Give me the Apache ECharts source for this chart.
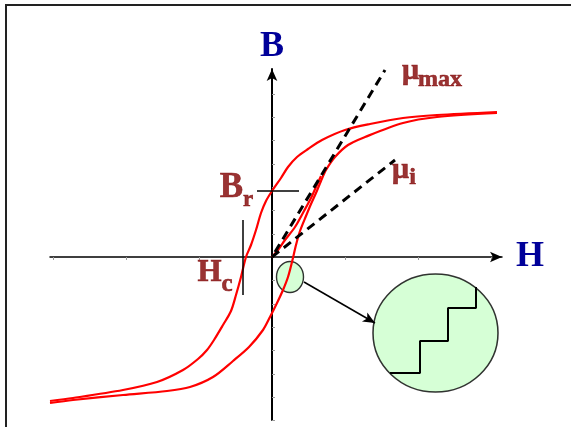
<!DOCTYPE html>
<html>
<head>
<meta charset="utf-8">
<title>Hysteresis loop</title>
<script src="https://cdn.jsdelivr.net/npm/echarts@6.0.0/dist/echarts.min.js"></script>
<style>
  html, body { margin: 0; padding: 0; background: #fff; }
  #chart { width: 571px; height: 427px; }
</style>
</head>
<body>
<div id="chart"></div>
<script>
  // H and B in arbitrary units
  const upperBranch = [
    [22.5, 14.5], [16.5, 14.2], [13.1, 13.9], [9.8, 13.3], [7.3, 12.7], [5.0, 11.7],
    [3.6, 10.8], [2.5, 10.0], [1.6, 9.0], [0.9, 7.9], [0, 6.6],
    [-0.6, 5.6], [-1.1, 4.4], [-1.6, 2.7], [-2.1, 1.2], [-2.6, 0], [-3.1, -2.0],
    [-3.6, -3.8], [-4.1, -5.4], [-4.9, -6.8], [-5.8, -8.3], [-6.5, -9.3], [-7.4, -10.2],
    [-8.9, -11.3], [-11.5, -12.5], [-14.9, -13.3], [-19.9, -14.1], [-22.2, -14.4]
  ];
  const lowerBranch = [
    [-22.2, -14.6], [-19.9, -14.3], [-14.9, -13.8], [-10.5, -13.4], [-8.2, -13.0], [-5.9, -12.0],
    [-3.9, -10.4], [-2.3, -9.0], [-0.9, -7.3], [-0.2, -6.0], [0.5, -4.6], [1.1, -3.3],
    [1.6, -2.0], [2.0, -0.5], [2.4, 1.2], [2.8, 2.6], [3.4, 4.1], [3.9, 5.3],
    [4.4, 6.4], [4.9, 7.6], [5.4, 8.7], [6.3, 10.0], [7.6, 11.2], [9.3, 12.0],
    [13.1, 13.4], [16.5, 14.0], [22.5, 14.4]
  ];
  const virginCurve = [
    [0, 0], [0.6, 0.7], [1.3, 1.7], [2.3, 3.0], [3.2, 4.6], [3.9, 5.9], [4.4, 7.0], [4.9, 8.1]
  ];
  const muMaxLine = [[0.3, 0.5], [11.3, 18.7]];
  const muInitLine = [[0, 0], [12.3, 9.7]];
  const remanenceTick = [[-1.5, 6.6], [2.7, 6.6]];
  const coercivityTick = [[-2.9, 3.7], [-2.9, -3.8]];
  const smallSpot = [[1.8, -2.0]];
  const bigSpot = [[16.35, -7.6]];
  const steps = [
    [11.8, -11.6], [14.8, -11.6], [14.8, -8.4], [17.6, -8.4], [17.6, -5.1], [20.4, -5.1], [20.4, -3.0]
  ];
  const pointer = [[3.2, -2.5], [10.3, -6.6]];
  const hTicks = [-21.9, -14.6, -7.3, 7.3, 14.6, 21.9];
  const bTicks = [-16.3, -14, -11.7, -9.3, -7, -4.7, -2.3, 2.3, 4.7, 7, 9.3, 11.7, 14, 16.3];
  // text, H, B
  const notes = [
    ['μ', 13.85, 18.6], ['max', 16.8, 17.7],
    ['μ', 12.85, 8.7], ['i', 14.05, 7.9],
    ['B', -4.05, 6.9], ['r', -2.4, 5.7],
    ['H', -6.25, -1.6], ['c', -4.5, -2.8]
  ];
  const noteSizes = [30, 24, 30, 24, 35, 23, 31, 25];

  const red = '#ff0000';
  const darkRed = '#800000';
  const serif = 'Liberation Serif';

  function redCurve(data) {
    return {
      type: 'line', data: data, smooth: 0.3, showSymbol: false, clip: false, silent: true,
      lineStyle: { color: red, width: 2.2 }
    };
  }
  function blackLine(data, width, dashed) {
    return {
      type: 'line', data: data, showSymbol: false, clip: false, silent: true,
      lineStyle: { color: '#000', width: width, type: dashed ? [9, 6] : 'solid' }
    };
  }

  let chart = echarts.init(document.getElementById('chart'));
  chart.setOption({
    backgroundColor: '#fff',
    animation: false,
    grid: [
      { left: 50, right: 69, top: 69, bottom: 7 },
      // slide frame: only its left and top edges fall inside the picture
      {
        left: 6, top: 5, width: 620, height: 460, outerBoundsMode: 'none',
        show: true, borderColor: '#222', borderWidth: 2, backgroundColor: 'transparent'
      }
    ],
    xAxis: [{
      type: 'value', min: -22.2, max: 23.0,
      name: 'H', nameLocation: 'end', nameGap: 14,
      nameTextStyle: { color: '#000099', fontFamily: serif, fontWeight: 'bold', fontSize: 36, verticalAlign: 'middle' },
      axisLine: { onZero: true, symbol: ['none', 'arrow'], symbolSize: [8, 12], lineStyle: { color: '#000', width: 1.5 } },
      axisTick: { show: true, customValues: hTicks, length: 3, lineStyle: { color: '#999' } },
      axisLabel: { show: false },
      splitLine: { show: false }
    }, {
      gridIndex: 1, type: 'value', show: false
    }],
    yAxis: [{
      type: 'value', min: -16.3, max: 18.8,
      name: 'B', nameLocation: 'end', nameGap: 4,
      nameTextStyle: { color: '#000099', fontFamily: serif, fontWeight: 'bold', fontSize: 36, align: 'center' },
      axisLine: { onZero: true, symbol: ['none', 'arrow'], symbolSize: [8, 12], lineStyle: { color: '#000', width: 2 } },
      axisTick: { show: true, inside: true, customValues: bTicks, length: 3, lineStyle: { color: '#999' } },
      axisLabel: { show: false },
      splitLine: { show: false }
    }, {
      gridIndex: 1, type: 'value', show: false
    }],
    series: [
      redCurve(virginCurve),
      redCurve(upperBranch),
      redCurve(lowerBranch),
      blackLine(muMaxLine, 3, true),
      blackLine(muInitLine, 3, true),
      blackLine(remanenceTick, 1.5, false),
      blackLine(coercivityTick, 1.5, false),
      {
        type: 'scatter', data: smallSpot, symbol: 'circle', symbolSize: [27, 31], silent: true,
        itemStyle: { color: '#ccffcc', borderColor: '#000', borderWidth: 1.5 }
      },
      {
        type: 'line', data: [], silent: true,
        markLine: {
          silent: true, symbol: ['none', 'arrow'], symbolSize: [8, 12], label: { show: false },
          lineStyle: { color: '#000', width: 1.5, type: 'solid' },
          data: [[{ coord: pointer[0] }, { coord: pointer[1] }]]
        }
      },
      {
        type: 'scatter', data: bigSpot, symbol: 'circle', symbolSize: [125, 118], silent: true,
        itemStyle: { color: '#ccffcc', borderColor: '#000', borderWidth: 1.5 }
      },
      blackLine(steps, 2, false),
      {
        type: 'scatter', symbolSize: 0, clip: false, silent: true,
        data: notes.map(function (n, i) {
          return {
            value: [n[1], n[2]],
            label: {
              show: true, position: 'inside', formatter: n[0],
              color: darkRed, fontFamily: serif, fontWeight: 'bold', fontSize: noteSizes[i],
              textBorderColor: darkRed, textBorderWidth: 0.6
            }
          };
        })
      }
    ]
  });
</script>
</body>
</html>
